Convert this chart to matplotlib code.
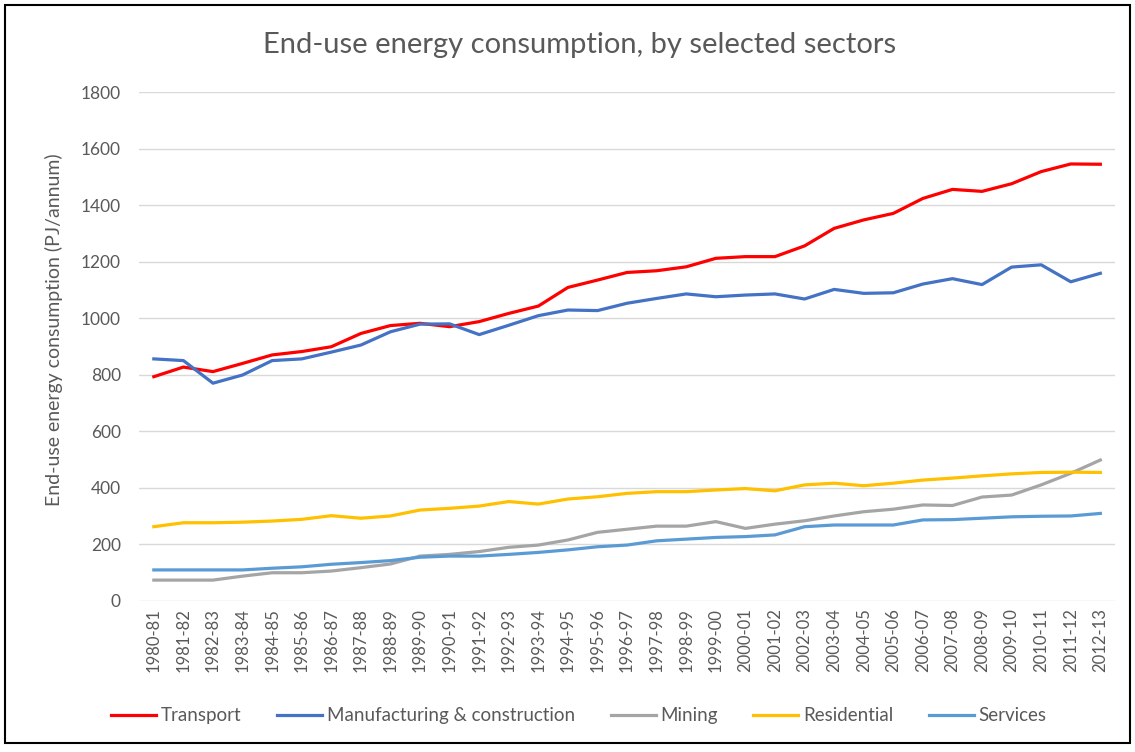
import matplotlib.pyplot as plt
from matplotlib.patches import Rectangle

years = ['1980-81', '1981-82', '1982-83', '1983-84', '1984-85', '1985-86', '1986-87',
         '1987-88', '1988-89', '1989-90', '1990-91', '1991-92', '1992-93', '1993-94',
         '1994-95', '1995-96', '1996-97', '1997-98', '1998-99', '1999-00', '2000-01',
         '2001-02', '2002-03', '2003-04', '2004-05', '2005-06', '2006-07', '2007-08',
         '2008-09', '2009-10', '2010-11', '2011-12', '2012-13']

transport = [794, 828, 812, 841, 871, 883, 900, 947, 975, 983, 971, 989, 1018, 1044,
             1110, 1136, 1163, 1169, 1183, 1213, 1219, 1219, 1257, 1319, 1349, 1372,
             1425, 1457, 1450, 1477, 1520, 1547, 1546]
manufacturing = [857, 851, 771, 800, 851, 857, 881, 906, 953, 980, 981, 943, 976, 1010,
                 1030, 1028, 1054, 1071, 1087, 1077, 1083, 1087, 1069, 1103, 1089, 1091,
                 1122, 1141, 1120, 1182, 1190, 1130, 1160]
mining = [74, 74, 74, 88, 100, 100, 106, 118, 131, 159, 165, 175, 190, 198, 216, 243,
          254, 265, 265, 281, 257, 272, 284, 301, 316, 325, 340, 338, 368, 375, 411,
          452, 499]
residential = [263, 277, 277, 279, 283, 289, 302, 293, 301, 322, 328, 336, 352, 343, 361,
               369, 381, 387, 387, 393, 398, 390, 411, 417, 408, 417, 428, 435, 443, 450,
               455, 456, 455]
services = [110, 110, 110, 110, 116, 121, 130, 136, 143, 155, 159, 159, 165, 172, 181,
            192, 198, 213, 219, 225, 228, 234, 263, 269, 269, 269, 287, 288, 293, 298,
            300, 301, 310]

series = [
    ('Transport', transport, '#FF0000'),
    ('Manufacturing & construction', manufacturing, '#4472C4'),
    ('Mining', mining, '#A5A5A5'),
    ('Residential', residential, '#FFC000'),
    ('Services', services, '#5B9BD5'),
]

plt.rcParams['font.family'] = ['Lato', 'DejaVu Sans']
grey = '#595959'

fig = plt.figure(figsize=(11.35, 7.52), dpi=100)
ax = fig.add_axes([0.1225, 0.2008, 0.86, 0.6762])

x = list(range(len(years)))
for name, vals, col in series:
    ax.plot(x, vals, color=col, linewidth=2.3, label=name)

ax.set_xlim(-0.5, len(years) - 0.5)
ax.set_ylim(0, 1800)
ax.set_yticks(range(0, 1801, 200))
ax.set_xticks(x)
ax.set_xticklabels(years, rotation=90, fontsize=12, color=grey)
ax.tick_params(axis='y', labelsize=12.5, labelcolor=grey, length=0, pad=13)
ax.tick_params(axis='x', length=0, pad=5)
ax.grid(axis='y', color='#D9D9D9', linewidth=1)
ax.set_axisbelow(True)
for s in ax.spines.values():
    s.set_visible(False)

ax.set_ylabel('End-use energy consumption (PJ/annum)', fontsize=14, color=grey)
ax.yaxis.set_label_coords(-0.078, 0.533)

fig.text(0.511, 0.94, 'End-use energy consumption, by selected sectors',
         ha='center', va='center', fontsize=21, color=grey)

fig.legend(loc='center', bbox_to_anchor=(0.51, 0.048), ncol=5, frameon=False,
           fontsize=13.5, handlelength=2.4, columnspacing=1.9, handletextpad=0.25,
           labelcolor=grey)

# outer border like the original screenshot
fig.patches.append(Rectangle((0.004, 0.012), 0.992, 0.982, transform=fig.transFigure,
                             fill=False, edgecolor='black', linewidth=1.5))

fig.savefig('out.png', dpi=100)
